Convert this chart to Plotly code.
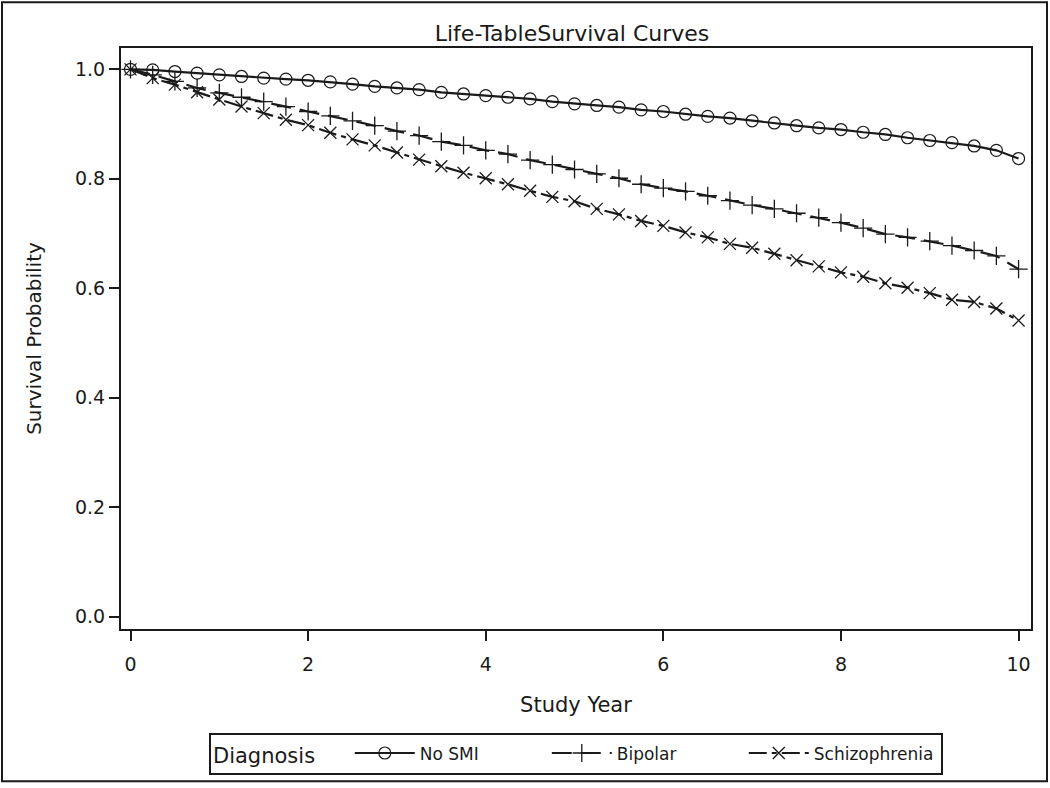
import plotly.graph_objects as go

years = [i * 0.25 for i in range(41)]

no_smi = [1.000, 0.999, 0.996, 0.993, 0.990, 0.987, 0.984, 0.982, 0.980, 0.977,
          0.973, 0.969, 0.966, 0.963, 0.958, 0.955, 0.952, 0.949, 0.946, 0.941,
          0.937, 0.934, 0.931, 0.926, 0.923, 0.918, 0.914, 0.911, 0.906, 0.902,
          0.897, 0.893, 0.890, 0.885, 0.881, 0.875, 0.870, 0.866, 0.860, 0.852,
          0.837]

bipolar = [1.000, 0.990, 0.978, 0.966, 0.957, 0.949, 0.941, 0.932, 0.923, 0.915,
           0.906, 0.897, 0.887, 0.879, 0.868, 0.861, 0.852, 0.845, 0.834, 0.826,
           0.817, 0.809, 0.801, 0.790, 0.783, 0.777, 0.769, 0.760, 0.752, 0.745,
           0.737, 0.729, 0.720, 0.710, 0.699, 0.693, 0.686, 0.678, 0.669, 0.659,
           0.635]

schizophrenia = [1.000, 0.984, 0.972, 0.958, 0.945, 0.932, 0.920, 0.908, 0.898, 0.884,
                 0.872, 0.861, 0.848, 0.835, 0.823, 0.811, 0.801, 0.790, 0.778, 0.767,
                 0.759, 0.745, 0.735, 0.723, 0.714, 0.702, 0.693, 0.681, 0.674, 0.663,
                 0.651, 0.640, 0.629, 0.621, 0.609, 0.601, 0.591, 0.579, 0.575, 0.563,
                 0.541]

x_ticks = [0, 2, 4, 6, 8, 10]
y_ticks = [0.0, 0.2, 0.4, 0.6, 0.8, 1.0]

FONT = "DejaVu Sans"
INK = "#1a1a1a"

fig = go.Figure()
fig.add_trace(go.Scatter(
    x=years, y=no_smi, name="No SMI", mode="lines+markers",
    line=dict(color=INK, width=2.2, dash="solid"),
    marker=dict(symbol="circle-open", size=12, color=INK, line=dict(width=1.2, color=INK)),
))
fig.add_trace(go.Scatter(
    x=years, y=bipolar, name="Bipolar", mode="lines+markers",
    line=dict(color=INK, width=2.2, dash="20px,9px"),
    marker=dict(symbol="cross-thin-open", size=13, color=INK, line=dict(width=1.3, color=INK)),
))
fig.add_trace(go.Scatter(
    x=years, y=schizophrenia, name="Schizophrenia", mode="lines+markers",
    line=dict(color=INK, width=2.2, dash="18px,5px,5px,5px"),
    marker=dict(symbol="x-thin-open", size=12, color=INK, line=dict(width=1.3, color=INK)),
))

W, H = 1050, 788
ml, mr, mt, mb = 121, 19, 48, 156
pw, ph = W - ml - mr, H - mt - mb

fig.update_layout(
    width=W, height=H,
    margin=dict(l=ml, r=mr, t=mt, b=mb),
    paper_bgcolor="white", plot_bgcolor="white",
    font=dict(family=FONT, color=INK, size=18),
    title=dict(text="Life-TableSurvival Curves", x=572 / W, xanchor="center",
               y=1 - 33 / H, yanchor="middle",
               font=dict(family=FONT, size=22, color=INK)),
    xaxis=dict(range=[-0.107, 10.14], tickvals=x_ticks, ticks="outside", ticklen=10,
               tickwidth=2, tickcolor=INK, showline=True, linewidth=2, linecolor=INK,
               mirror=True, showgrid=False, zeroline=False, ticklabelstandoff=7,
               tickfont=dict(family=FONT, size=19),
               title=dict(text="Study Year", font=dict(family=FONT, size=21), standoff=24)),
    yaxis=dict(range=[-0.0227, 1.039], tickvals=y_ticks, tickformat=".1f", ticks="outside",
               ticklen=10, tickwidth=2, tickcolor=INK, showline=True, linewidth=2,
               linecolor=INK, mirror=True, showgrid=False, zeroline=False,
               tickfont=dict(family=FONT, size=19),
               title=dict(text="Survival Probability", font=dict(family=FONT, size=20), standoff=28)),
    legend=dict(orientation="h", x=(576 - ml) / pw, xanchor="center",
                y=(mt + ph - 737) / ph, yanchor="top",
                bordercolor=INK, borderwidth=2, bgcolor="white",
                font=dict(family=FONT, size=17), itemwidth=60,
                entrywidth=122, entrywidthmode="pixels",
                title=dict(text="Diagnosis    ", side="left", font=dict(family=FONT, size=21))),
    showlegend=True,
    shapes=[dict(type="rect", xref="paper", yref="paper",
                 x0=-(ml - 2) / pw, x1=1 + (mr - 3) / pw,
                 y0=-(mb - 3) / ph, y1=1 + (mt - 2) / ph,
                 line=dict(color=INK, width=2), fillcolor="rgba(0,0,0,0)", layer="below")],
)

fig.write_html("out.html", config={"displayModeBar": False},
               post_script="document.body.style.margin='0';document.body.style.overflow='hidden';")
